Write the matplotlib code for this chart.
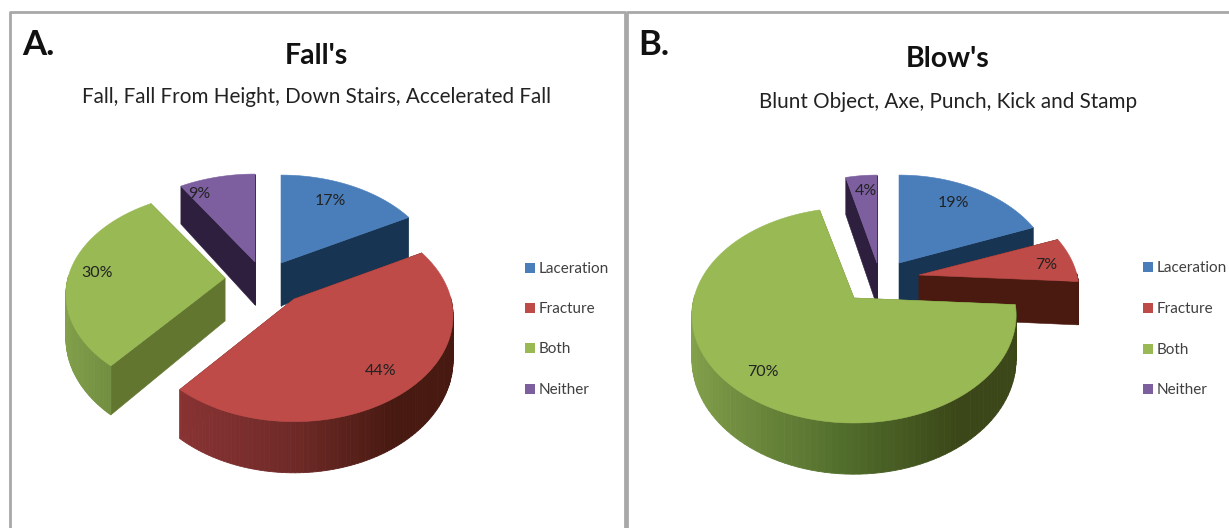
import numpy as np
import matplotlib
matplotlib.use("Agg")
import matplotlib.pyplot as plt
from matplotlib.patches import Polygon, Rectangle

# ---- data ----
categories = ["Laceration", "Fracture", "Both", "Neither"]
falls = [17, 44, 30, 9]
blows = [19, 7, 70, 4]
panel_tags = ["A.", "B."]
titles = ["Fall's", "Blow's"]
subtitles = ["Fall, Fall From Height, Down Stairs, Accelerated Fall",
             "Blunt Object, Axe, Punch, Kick and Stamp"]

# ---- layout ----
apex_a = [(281, 263), (294, 299), (225, 278), (255, 262)]
apex_b = [(899, 263), (919, 275), (854, 298), (877, 263)]
rx_a = [157, 157, 157, 157]
rx_b = [153, 158, 160, 145]
ry_a = [102, 103, 100, 102]
ry_b = [102, 102, 105, 102]
order_a = [3, 0, 2, 1]
order_b = [3, 0, 1, 2]
nudge_a = [(-7, 0), (0, 4), (-7, 0), (-25, 0)]
nudge_b = [(-6, 0), (8, 2), (-3, 4), (2, -2)]
PERSP, DEPTH = 0.16, 43

top_col = ["#4a7ebb", "#be4b48", "#98b954", "#7d5fa0"]
cut_col = ["#173552", "#4a1a10", "#62762f", "#2e1f3e"]
rim_col = [["#2c4d75", "#1f3d5c", "#173552"],
           ["#98383a", "#6f2a28", "#471910"],
           ["#84a24c", "#4f6a2a", "#3b4718"],
           ["#5d4777", "#3f2e55", "#2e1f3e"]]

plt.rcParams["font.family"] = ["Lato", "DejaVu Sans"]

fig = plt.figure(figsize=(12.29, 5.28), dpi=100, facecolor="white")
ax = fig.add_axes([0, 0, 1, 1])
ax.set_xlim(0, 1229)
ax.set_ylim(528, 0)
ax.axis("off")


def project(apex, rx, ry, angle, radius=1.0, z=0.0):
    X = radius * np.sin(angle)
    Y = radius * np.cos(angle)
    s = 1 / (1 + PERSP * Y)
    return apex[0] + rx * X * s, apex[1] - ry * Y * s + z * s


def mix(hexes, x):
    rgb = np.array([matplotlib.colors.to_rgb(h) for h in hexes])
    return [np.interp(x, [-1, 0, 0.55], rgb[:, i]) for i in range(3)]


def slice3d(apex, rx, ry, a0, a1, i):
    angles = np.linspace(a0, a1, 120)
    for a in (a0, a1):
        p = project(apex, rx, ry, a)
        q = project(apex, rx, ry, a, z=DEPTH)
        c = project(apex, rx, ry, a, 0)
        cb = project(apex, rx, ry, a, 0, z=DEPTH)
        ax.add_patch(Polygon([c, p, q, cb], closed=True, fc=cut_col[i], ec=cut_col[i], lw=0.4, zorder=2))
    for u, v in zip(angles[:-1], angles[1:]):
        if np.cos((u + v) / 2) > 0.02:
            continue
        poly = [project(apex, rx, ry, u), project(apex, rx, ry, v),
                project(apex, rx, ry, v, z=DEPTH), project(apex, rx, ry, u, z=DEPTH)]
        col = mix(rim_col[i], np.sin((u + v) / 2))
        ax.add_patch(Polygon(poly, closed=True, fc=col, ec=col, lw=0.6, zorder=2))
    xs, ys = project(apex, rx, ry, angles)
    pts = [apex] + list(zip(xs, ys))
    ax.add_patch(Polygon(pts, closed=True, fc=top_col[i], ec=top_col[i], lw=0.4, zorder=2))


def pie3d(values, apexes, rxs, rys, order, nudges):
    edges = np.deg2rad(np.concatenate([[0], np.cumsum(values)]) * 3.6)
    for i in order:
        slice3d(apexes[i], rxs[i], rys[i], edges[i], edges[i + 1], i)
    for i, v in enumerate(values):
        mid = (edges[i] + edges[i + 1]) / 2
        x, y = project(apexes[i], rxs[i], rys[i], mid, 0.78)
        ax.text(x + nudges[i][0], y + nudges[i][1], f"{v}%", ha="center", va="center",
                fontsize=11.5, color="#222222", zorder=5)


def legend(x, ys):
    for name, c, y in zip(categories, top_col, ys):
        ax.add_patch(Rectangle((x, y - 5), 10, 10, fc=c, ec="none", zorder=3))
        ax.text(x + 14, y + 1, name, ha="left", va="center", fontsize=11, color="#404040", zorder=5)


ax.plot([10, 10, 625, 625], [528, 12, 12, 528], color="#a8a8a8", lw=2, zorder=1)
ax.plot([627, 627, 1229], [528, 12, 12], color="#a8a8a8", lw=2, zorder=1)

pie3d(falls, apex_a, rx_a, ry_a, order_a, nudge_a)
pie3d(blows, apex_b, rx_b, ry_b, order_b, nudge_b)
legend(525, [268, 308, 348, 389])
legend(1143, [267, 308, 349, 389])

for tag, x, y in zip(panel_tags, [22, 638], [45, 45]):
    ax.text(x, y, tag, ha="left", va="center", fontsize=25, fontweight="bold", color="#111111")
for t, x, y in zip(titles, [316, 948], [56, 59]):
    ax.text(x, y, t, ha="center", va="center", fontsize=20.5, fontweight="bold", color="#111111")
for t, x, y in zip(subtitles, [316, 948], [97, 102]):
    ax.text(x, y, t, ha="center", va="center", fontsize=14.9, color="#222222")

fig.savefig("out.png", dpi=100)
